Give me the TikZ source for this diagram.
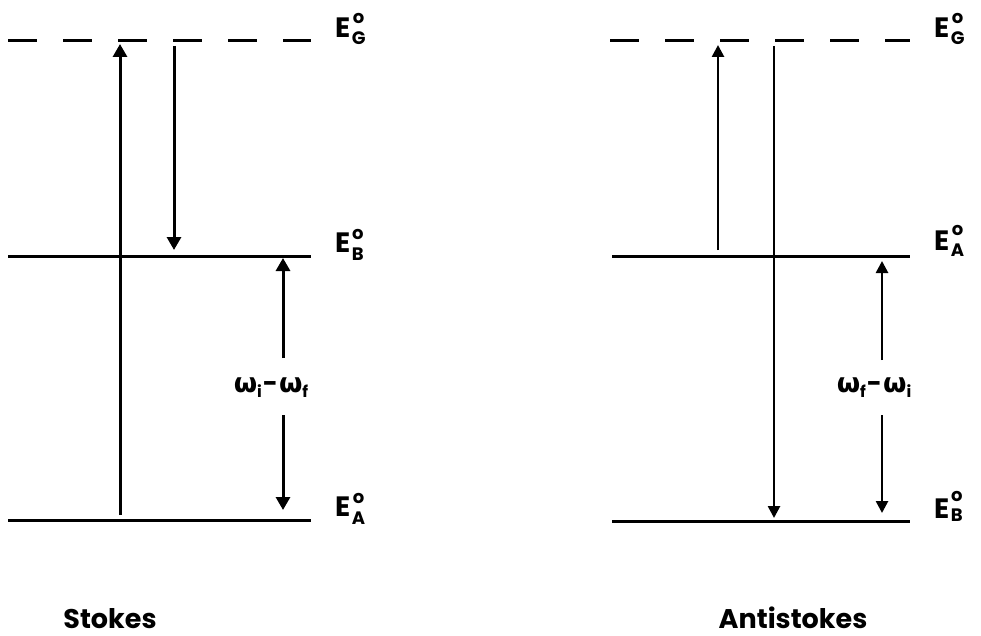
\documentclass[tikz,border=0pt]{standalone}
\usepackage{fontspec}
\setmainfont{Poppins}
\newfontfamily\grk{DejaVu Sans}
\usetikzlibrary{arrows.meta}
\newsavebox\lvlsubbox
% #1 subscript letter, #2 vertical shift of subscript, #3 raise of circle above subscript baseline
\newcommand{\lvl}[3]{E\kern1.5pt\raisebox{#2}{\sbox\lvlsubbox{\fontsize{18}{18}\selectfont #1}\rlap{\hbox to \wd\lvlsubbox{\hss\raisebox{#3}{\fontsize{18}{18}\selectfont o}\hss}}\usebox\lvlsubbox}}
\newcommand{\om}{{\grk\bfseries\fontsize{27}{30}\selectfont ω}}
\newcommand{\omsub}[1]{\raisebox{-5pt}{\fontsize{16}{16}\selectfont #1}}
\begin{document}
\begin{tikzpicture}[x=1pt,y=-1pt,
  level/.style={line width=3pt},
  dashedlevel/.style={line width=3pt, dash pattern=on 29pt off 26pt},
  arrL/.style={line width=3pt, -{Triangle[length=13pt,width=14pt]}},
  arrR/.style={line width=2.6pt, -{Triangle[length=12pt,width=12pt]}},
  lab/.style={inner sep=0pt, font=\bfseries\fontsize{28}{32}\selectfont},
  omlab/.style={inner sep=0pt, font=\bfseries\fontsize{26}{30}\selectfont},
  title/.style={inner sep=0pt, font=\bfseries\fontsize{27}{32}\selectfont}]
\useasboundingbox (0,0) rectangle (981,636);

% ---------------- Stokes (left) ----------------
\coordinate (LGa) at (8,41);   \coordinate (LGb) at (311,41);
\coordinate (LBa) at (8,256);  \coordinate (LBb) at (311,256);
\coordinate (LAa) at (8,520);  \coordinate (LAb) at (311,520);
\draw[dashedlevel] (LGa) -- (LGb);
\draw[level] (LBa) -- (LBb);
\draw[level] (LAa) -- (LAb);

\node[lab, anchor=base west] (lEG) at (335,38) {\lvl{G}{-7pt}{21pt}};
\node[lab, anchor=base west] (lEB) at (335,252) {\lvl{B}{-8pt}{21pt}};
\node[lab, anchor=base west] (lEA) at (335,516) {\lvl{A}{-8pt}{21pt}};

\coordinate (s1a) at (120,515); \coordinate (s1b) at (120,44);
\draw[arrL] (s1a) -- (s1b);
\coordinate (s2a) at (174,46);  \coordinate (s2b) at (174,250);
\draw[arrL] (s2a) -- (s2b);

\node[omlab] (lom) at (271,388) {\om\omsub{i}\kern1pt-\kern1pt\om\omsub{f}};
\coordinate (s3a) at (283,358); \coordinate (s3b) at (283,258);
\coordinate (s4a) at (283,415); \coordinate (s4b) at (283,510);
\draw[arrL] (s3a) -- (s3b);
\draw[arrL] (s4a) -- (s4b);

\node[title, anchor=base] (stokes) at (110,628) {Stokes};

% ---------------- Antistokes (right) ----------------
\coordinate (RGa) at (610,41);  \coordinate (RGb) at (910,41);
\coordinate (RAa) at (612,256); \coordinate (RAb) at (910,256);
\coordinate (RBa) at (612,521); \coordinate (RBb) at (910,521);
\draw[dashedlevel] (RGa) -- (RGb);
\draw[level] (RAa) -- (RAb);
\draw[level] (RBa) -- (RBb);

\node[lab, anchor=base west] (rEG) at (934,38) {\lvl{G}{-7pt}{21pt}};
\node[lab, anchor=base west] (rEA) at (934,250) {\lvl{A}{-6pt}{20pt}};
\node[lab, anchor=base west] (rEB) at (934,518) {\lvl{B}{-3pt}{20pt}};

\coordinate (t1a) at (718,250); \coordinate (t1b) at (718,45);
\draw[arrR] (t1a) -- (t1b);
\coordinate (t2a) at (774,46);  \coordinate (t2b) at (774,518);
\draw[arrR] (t2a) -- (t2b);

\node[omlab] (rom) at (874,388) {\om\omsub{f}\kern1pt-\kern1pt\om\omsub{i}};
\coordinate (t3a) at (882,360); \coordinate (t3b) at (882,261);
\coordinate (t4a) at (882,415); \coordinate (t4b) at (882,513);
\draw[arrR] (t3a) -- (t3b);
\draw[arrR] (t4a) -- (t4b);

\node[title, anchor=base] (anti) at (793,628) {Antistokes};
\end{tikzpicture}
\end{document}
